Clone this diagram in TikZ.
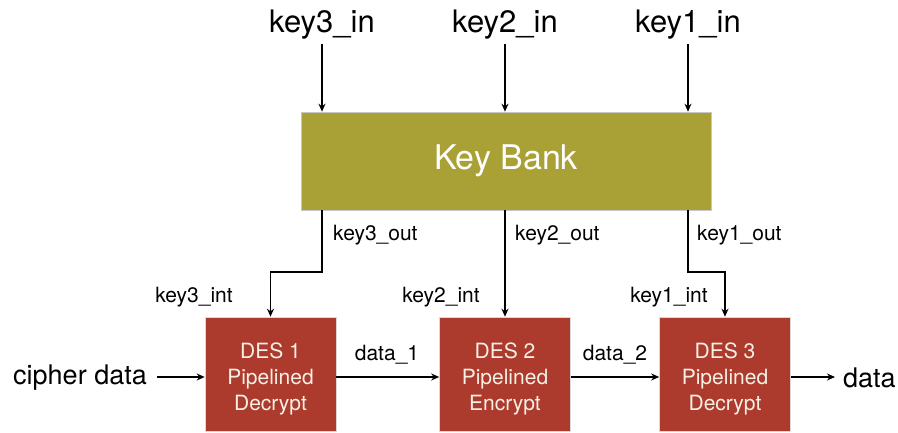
\documentclass[tikz,border=0pt]{standalone}
\usepackage{fontspec}
\setmainfont{TeX Gyre Heros}
\usetikzlibrary{arrows.meta}
\definecolor{kbolive}{HTML}{A9A135}
\definecolor{desred}{HTML}{AD3B2D}
\definecolor{boxtext}{HTML}{F6F0E6}
\begin{document}
\begin{tikzpicture}[x=1pt,y=-1pt,
  arr/.style={line width=1.3pt,-{Stealth[length=8pt,width=7pt]}},
  kbbox/.style={draw=black!22,line width=0.6pt,fill=kbolive,text=white,minimum width=410pt,minimum height=98pt,font=\fontsize{34}{40}\selectfont},
  desbox/.style={draw=black!15,line width=0.6pt,fill=desred,minimum width=131pt,minimum height=114pt},
  destext/.style={text=boxtext,align=center,font=\fontsize{21}{26}\selectfont,yshift=-5pt},
  biglab/.style={font=\fontsize{31}{36}\selectfont,inner sep=4pt},
  lab/.style={font=\fontsize{21}{25}\selectfont,inner sep=0pt},
  iolab/.style={font=\fontsize{27}{32}\selectfont,inner ysep=0pt}]
\useasboundingbox (0,0) rectangle (898,433);
\node[kbbox] (kb) at (506,161) {Key Bank};
\node[desbox,label={[destext]center:{DES 1\\Pipelined\\Decrypt}}] (des1) at (270.5,374) {};
\node[desbox,label={[destext]center:{DES 2\\Pipelined\\Encrypt}}] (des2) at (505,374) {};
\node[desbox,label={[destext]center:{DES 3\\Pipelined\\Decrypt}}] (des3) at (725,374) {};
\node[biglab] (in3) at (322,25) {key3\_in};
\node[biglab] (in2) at (505,25) {key2\_in};
\node[biglab] (in1) at (688,25) {key1\_in};
\draw[arr] (in3.south) -- (in3.south |- kb.north);
\draw[arr] (in2.south) -- (in2.south |- kb.north);
\draw[arr] (in1.south) -- (in1.south |- kb.north);
\coordinate (b3) at (322,272);
\coordinate (b1) at (688,272);
\draw[arr] (kb.south -| b3) -- (b3) -| (des1.north);
\draw[arr] (kb.south -| in2.south) -- (des2.north);
\draw[arr] (kb.south -| b1) -- (b1) -| (des3.north);
\node[lab,anchor=west] (o3) at (333,235) {key3\_out};
\node[lab,anchor=west] (o2) at (515,235) {key2\_out};
\node[lab,anchor=west] (o1) at (697,235) {key1\_out};
\node[lab] (i3) at (194,297) {key3\_int};
\node[lab] (i2) at (441,297) {key2\_int};
\node[lab] (i1) at (669,297) {key1\_int};
\node[iolab,anchor=east,inner xsep=10pt] (cd) at (157,378) {cipher data};
\node[iolab,anchor=west,inner xsep=8pt] (dout) at (835,378) {data};
\draw[arr] (cd.east |- 0,377) -- ([yshift=-3pt]des1.west);
\draw[arr] ([yshift=-3pt]des1.east) -- ([yshift=-3pt]des2.west);
\draw[arr] ([yshift=-3pt]des2.east) -- ([yshift=-3pt]des3.west);
\draw[arr] ([yshift=-3pt]des3.east) -- (dout.west |- 0,377);
\node[lab] (d1) at (387,355) {data\_1};
\node[lab] (d2) at (615,355) {data\_2};
\end{tikzpicture}
\end{document}
